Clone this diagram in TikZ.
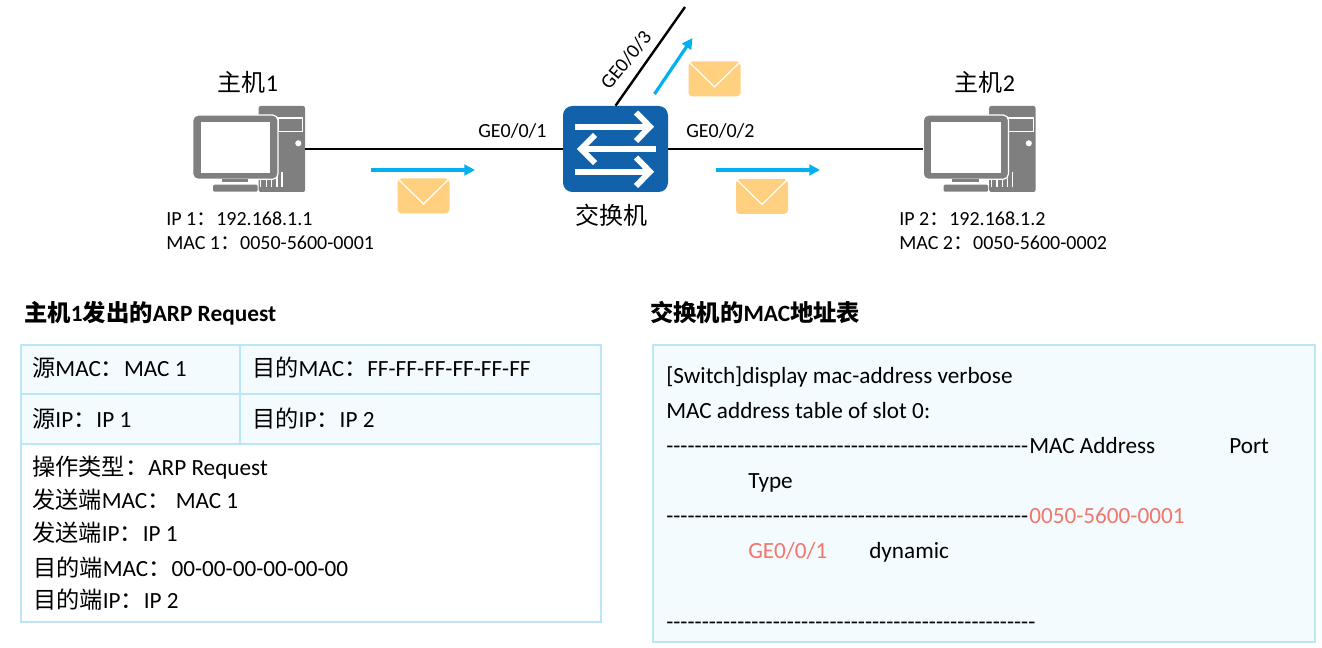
\documentclass[tikz,border=0pt]{standalone}
\usepackage{fontspec}
\setmainfont{Carlito}
\newfontfamily\cjk{Noto Sans CJK SC}
\newfontfamily\dashfont{Carlito}
\newcommand{\zh}[1]{{\cjk #1}}
\usetikzlibrary{arrows.meta}
\definecolor{swblue}{HTML}{1262AB}
\definecolor{hostgray}{HTML}{7F7F7F}
\definecolor{flowblue}{HTML}{00B0F0}
\definecolor{mailyellow}{HTML}{FFD07F}
\definecolor{boxfill}{HTML}{F3FBFF}
\definecolor{boxline}{HTML}{BCE6F6}
\definecolor{hitred}{HTML}{F1766B}
\tikzset{
  hostbox/.style={minimum width=84pt, minimum height=64.5pt, inner sep=0pt},
  switchbox/.style={fill=swblue, rounded corners=7pt, minimum width=78.75pt, minimum height=64.5pt, inner sep=0pt},
  wire/.style={draw=black, line width=1.8pt},
  flow/.style={draw=flowblue, line width=2.4pt, -{Stealth[length=8pt,width=8pt,inset=0pt]}},
  swarrow/.style={draw=white, line width=4.4pt, miter limit=10},
  small/.style={anchor=base west, inner sep=0pt, font=\fontsize{15}{16}\selectfont},
  big/.style={anchor=base, inner sep=0pt, font=\fontsize{18}{20}\selectfont},
  tabletext/.style={anchor=base west, inner sep=0pt, font=\fontsize{17.4}{20}\selectfont},
  heading/.style={anchor=base west, inner sep=0pt, font=\fontsize{17.5}{20}\selectfont\bfseries},
  pics/hostpc/.style={code={
    \fill[hostgray, rounded corners=1.5pt] (9.7,-43) rectangle (56,43);
    \draw[white, line width=0.9pt] (29,-31) rectangle (53.7,-17.3);
    \fill[white] (49.3,-5.7) circle (2.3pt);
    \foreach \xi in {5,10.7,16,21.3,26.3} { \draw[white, line width=0.9pt] (6.7+\xi,22.7) -- (6.7+\xi,37.7); }
    \fill[hostgray, rounded corners=4pt, draw=white, line width=0.9pt] (-56.3,-34) rectangle (29,30.3);
    \fill[white] (-48.3,-27.3) rectangle (21,23.7);
    \fill[hostgray] (-27.3,30.3) rectangle (-1,33.3);
    \fill[hostgray, rounded corners=1pt] (-36,35.7) rectangle (8.7,42.7);
  }},
  pics/mail/.style={code={
    \fill[mailyellow, rounded corners=3pt] (-26,-17.5) rectangle (26,17.5);
    \draw[white, line width=0.9pt] (-26,-17.5) -- (0,8) -- (26,-17.5);
  }}
}
\begin{document}
\begin{tikzpicture}[x=0.75pt, y=-0.75pt]
  \useasboundingbox (0,0) rectangle (1322,648);

  % hosts and switch
  \node[hostbox] (host1) at (249,149) {};
  \node[hostbox] (host2) at (979.5,149) {};
  \pic at (249,149) {hostpc};
  \pic at (979.5,149) {hostpc};
  \node[switchbox] (sw) at (615.5,149) {};
  \coordinate (port3end) at (685,7);

  \draw[wire] (host1.east |- sw) -- (sw.west);
  \draw[wire] (sw.east) -- (host2.west |- sw);
  \draw[wire] (sw.north) -- (port3end);

  % arrows on the switch
  \draw[swarrow] (575,126.7) -- (650,126.7);
  \draw[swarrow] (636,112.5) -- (650,126.7) -- (636,141);
  \draw[swarrow] (656,149) -- (581,149);
  \draw[swarrow] (595,135) -- (581,149) -- (595,163);
  \draw[swarrow] (575,171.7) -- (650,171.7);
  \draw[swarrow] (636,157.5) -- (650,171.7) -- (636,186);

  % frames in transit
  \coordinate (flow1a) at (371,170); \coordinate (flow1b) at (475,170);
  \coordinate (flow2a) at (716,170); \coordinate (flow2b) at (820,170);
  \coordinate (flow3a) at (654.5,94); \coordinate (flow3b) at (692.5,38);
  \draw[flow] (flow1a) -- (flow1b);
  \draw[flow] (flow2a) -- (flow2b);
  \draw[flow] (flow3a) -- (flow3b);
  \pic at (423.5,196) {mail};
  \pic at (714.5,79) {mail};
  \pic at (762,196.5) {mail};

  % labels
  \node[big] (name1) at (248,92) {\zh{主机}1};
  \node[big] (name2) at (985,92) {\zh{主机}2};
  \node[big] (swname) at (611,225) {\zh{交换机}};
  \node[small] (port1) at (478,138) {GE0/0/1};
  \node[small] (port2) at (686,138) {GE0/0/2};
  \node[small, anchor=center, rotate=51] (port3) at (626,60) {GE0/0/3};
  \node[small] (ip1) at (166,226) {IP 1\zh{：}192.168.1.1};
  \node[small] (mac1) at (166,250) {MAC 1\zh{：}0050-5600-0001};
  \node[small] (ip2) at (899,226) {IP 2\zh{：}192.168.1.2};
  \node[small] (mac2) at (899,250) {MAC 2\zh{：}0050-5600-0002};

  % request table
  \node[heading] (reqtitle) at (24,322) {\zh{主机}1\zh{发出的}ARP Request};
  \fill[boxfill] (21,345) rectangle (601,444);
  \draw[boxline, line width=1.4pt] (21,345) rectangle (601,622);
  \draw[boxline, line width=1.4pt] (21,394) -- (601,394);
  \draw[boxline, line width=1.4pt] (21,444) -- (601,444);
  \draw[boxline, line width=1.4pt] (240,345) -- (240,444);

  \node[tabletext] (srcmac) at (32,377) {\zh{源}MAC\zh{：}MAC 1};
  \node[tabletext] (dstmac) at (252,377) {\zh{目的}MAC\zh{：}FF-FF-FF-FF-FF-FF};
  \node[tabletext] (srcip) at (32,428) {\zh{源}IP\zh{：}IP 1};
  \node[tabletext] (dstip) at (252,428) {\zh{目的}IP\zh{：}IP 2};
  \node[tabletext] (optype) at (32,476) {\zh{操作类型：}ARP Request};
  \node[tabletext] (sendmac) at (32,509) {\zh{发送端}MAC\zh{：} MAC 1};
  \node[tabletext] (sendip) at (32,542) {\zh{发送端}IP\zh{：}IP 1};
  \node[tabletext] (tgtmac) at (33,576) {\zh{目的端}MAC\zh{：}00-00-00-00-00-00};
  \node[tabletext] (tgtip) at (33,609) {\zh{目的端}IP\zh{：}IP 2};

  % mac table
  \node[heading] (mactitle) at (650,322) {\zh{交换机的}MAC\zh{地址表}};
  \fill[boxfill] (653,345) rectangle (1315,642);
  \draw[boxline, line width=1.1pt] (653,345) rectangle (1315,642);

  \node[tabletext] (cmd) at (666,384) {[Switch]display mac-address verbose};
  \node[tabletext] (slot) at (666,419) {MAC address table of slot 0:};
  \node[tabletext] (rule1) at (666,454) {\dashfont ---------------------------------------------------};
  \node[tabletext] (colmac) at (1029,454) {MAC Address};
  \node[tabletext] (colport) at (1229,454) {Port};
  \node[tabletext] (coltype) at (748,489) {Type};
  \node[tabletext] (rule2) at (666,524) {\dashfont ---------------------------------------------------};
  \node[tabletext, text=hitred] (hitmac) at (1029,524) {0050-5600-0001};
  \node[tabletext, text=hitred] (hitport) at (748,559) {GE0/0/1};
  \node[tabletext] (hittype) at (869,559) {dynamic};
  \node[tabletext] (rule3) at (666,629) {\dashfont ----------------------------------------------------};
\end{tikzpicture}
\end{document}
